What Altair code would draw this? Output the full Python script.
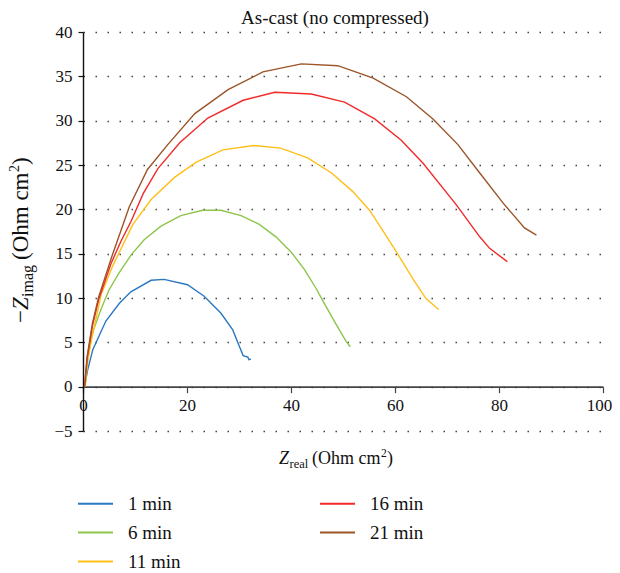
import altair as alt
import pandas as pd

# ---- data ----
series_names = ["1 min", "6 min", "11 min", "16 min", "21 min"]

x_1 = [0.3, 0.9, 1.9, 4.4, 7.0, 9.2, 13.1, 15.6, 20.1, 23.3, 26.5, 28.8, 30.1, 30.8, 31.7, 31.9, 32.3]
y_1 = [0, 1.9, 4.2, 7.4, 9.4, 10.7, 12.0, 12.1, 11.5, 10.2, 8.3, 6.4, 4.5, 3.5, 3.35, 3.05, 3.1]

x_6 = [0.4, 0.9, 1.9, 3.5, 5.0, 6.9, 9.3, 11.8, 15.0, 18.8, 23.0, 26.5, 30.4, 33.9, 37.1, 40.0, 42.6, 44.8, 46.4, 48.7, 50.6, 51.4]
y_6 = [0, 3.4, 6.2, 8.8, 10.9, 12.8, 14.9, 16.6, 18.1, 19.3, 19.9, 19.9, 19.3, 18.3, 16.9, 15.2, 13.2, 11.1, 9.4, 7.0, 5.1, 4.5]

x_11 = [0.4, 0.9, 1.5, 3.5, 5.7, 9.6, 13.1, 17.6, 21.7, 26.9, 32.8, 38.0, 43.2, 47.8, 51.9, 55.1, 58.0, 60.6, 63.5, 66.0, 68.4]
y_11 = [0, 2.8, 4.9, 10.4, 13.6, 18.3, 21.1, 23.6, 25.3, 26.7, 27.2, 26.9, 25.8, 24.1, 22.0, 19.9, 17.3, 14.9, 12.1, 9.9, 8.7]

x_16 = [0.3, 0.8, 1.8, 3.0, 5.4, 7.3, 9.2, 11.6, 14.4, 18.6, 24.0, 30.8, 36.9, 43.9, 50.3, 56.1, 61.2, 65.4, 71.8, 76.3, 78.2, 81.6]
y_16 = [0, 3.2, 6.8, 9.8, 13.9, 16.4, 18.6, 21.8, 24.6, 27.5, 30.3, 32.3, 33.2, 33.0, 32.1, 30.2, 27.8, 25.2, 20.5, 16.9, 15.6, 14.1]

x_21 = [0.3, 0.8, 1.8, 3.0, 5.5, 8.9, 12.4, 16.3, 21.5, 27.9, 34.6, 42.0, 49.0, 55.8, 62.2, 67.3, 72.1, 76.3, 80.8, 84.9, 87.2]
y_21 = [0, 3.4, 7.1, 10.1, 14.6, 20.3, 24.5, 27.3, 30.8, 33.5, 35.5, 36.4, 36.2, 34.8, 32.7, 30.2, 27.3, 24.1, 20.7, 17.9, 17.1]

x_ticks = [0, 20, 40, 60, 80, 100]
y_ticks = [-5, 0, 5, 10, 15, 20, 25, 30, 35, 40]

colors = ["#2a78c2", "#8dc54b", "#ffbf1a", "#f22a2a", "#9c5428"]

rows = []
for name, xs, ys in zip(series_names, [x_1, x_6, x_11, x_16, x_21], [y_1, y_6, y_11, y_16, y_21]):
    for i, (a, b) in enumerate(zip(xs, ys)):
        rows.append({"series": name, "idx": i, "zr": a, "zi": b})
df = pd.DataFrame(rows)

FONT = "Liberation Serif"
W, H = 520, 399

lines = alt.Chart(df).mark_line(strokeWidth=1.4).encode(
    x=alt.X("zr:Q", scale=alt.Scale(domain=[0, 100], nice=False),
            axis=alt.Axis(values=x_ticks, title=None, grid=False, offset=-H * 5 / 45,
                          domainColor="#444", domainWidth=1.6, tickColor="#444",
                          tickWidth=1.2, tickSize=6, labelPadding=5, labelFlush=False,
                          labelOffset={"expr": "datum.value == 100 ? -4 : 0"},
                          labelFont=FONT, labelFontSize=17, labelColor="#111")),
    y=alt.Y("zi:Q", scale=alt.Scale(domain=[-5, 40], nice=False),
            axis=alt.Axis(values=y_ticks, title=None, grid=True, gridDash=[1.5, 10.5],
                          gridColor="#444", gridWidth=1.5, labelFlush=False,
                          domainColor="#111", domainWidth=1.4, tickColor="#111",
                          tickWidth=1.2, tickSize=5, labelPadding=6,
                          labelFont=FONT, labelFontSize=17, labelColor="#111")),
    color=alt.Color("series:N",
                    scale=alt.Scale(domain=series_names, range=colors),
                    legend=alt.Legend(title=None, orient="none", legendX=-6, legendY=453,
                                      columns=2, columnPadding=135, rowPadding=0,
                                      symbolType="stroke", symbolSize=1225,
                                      symbolStrokeWidth=2, labelOffset=14,
                                      labelFont=FONT, labelFontSize=19, labelColor="#111")),
    order="idx:Q",
)

def txt(s, x, y, size=17, italic=False, angle=0, baseline="alphabetic"):
    kw = dict(text=s, font=FONT, fontSize=size, align="left", baseline=baseline,
              color="#111")
    if italic:
        kw["fontStyle"] = "italic"
    if angle:
        kw["angle"] = angle
    return alt.Chart(pd.DataFrame({"k": [0]})).mark_text(**kw).encode(
        x=alt.value(x), y=alt.value(y))

# x-axis title pieces (view coordinates)
xt_y = 432
xtitle = [
    txt("Z", 196, xt_y, size=18, italic=True),
    txt("real", 206.5, xt_y + 4, size=12.5),
    txt("(Ohm cm", 229, xt_y, size=18),
    txt("2", 298, xt_y - 7.5, size=11.5),
    txt(")", 304, xt_y, size=18),
]
# y-axis title pieces, rotated
yt_x = -55
ytitle = [
    txt("\u2212", yt_x, 291, size=23, angle=270),
    txt("Z", yt_x, 278, size=23, italic=True, angle=270),
    txt("imag", yt_x + 5, 265, size=16, angle=270),
    txt("(Ohm cm", yt_x, 228, size=23, angle=270),
    txt("2", yt_x - 9, 140, size=14, angle=270),
    txt(")", yt_x, 133, size=23, angle=270),
]

chart = alt.layer(lines, *xtitle, *ytitle).properties(
    width=W, height=H,
    title=alt.TitleParams("As-cast (no compressed)", font=FONT, fontSize=19,
                          fontWeight="normal", anchor="middle", offset=-5, dx=-8,
                          color="#111"),
    autosize=alt.AutoSizeParams(type="none"),
    padding={"left": 75, "top": 24, "right": 9, "bottom": 140},
).configure(font=FONT).configure_view(stroke=None).configure_axis(
    labelFont=FONT).configure_legend(labelFont=FONT).configure_title(font=FONT)

chart.save("out.html", embed_options={"renderer": "svg", "actions": False})
